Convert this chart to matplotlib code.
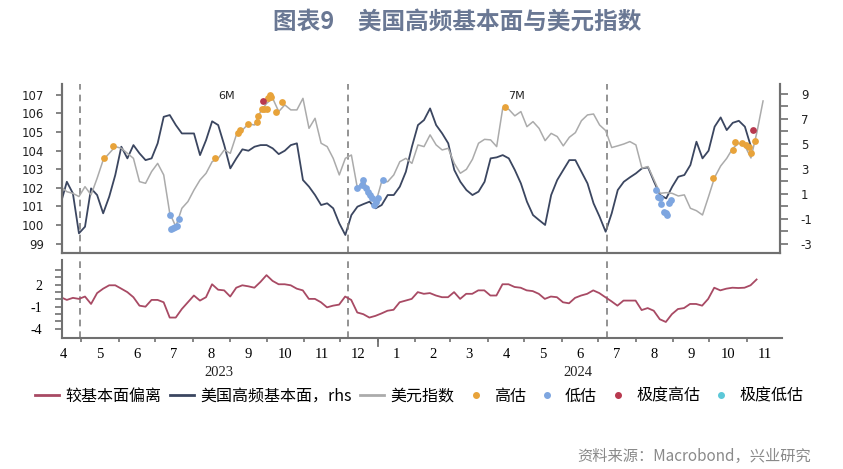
import matplotlib
matplotlib.use('Agg')
import matplotlib.pyplot as plt
import matplotlib.dates as mdates
import matplotlib.transforms as mtransforms
from matplotlib.lines import Line2D
import numpy as np
import pandas as pd

plt.rcParams['font.family'] = ['Noto Sans CJK SC', 'DejaVu Sans']
plt.rcParams['axes.unicode_minus'] = False

# sample dates: every 5 days from 2023-04-14
start = pd.Timestamp('2023-04-14')
dates = pd.date_range(start, periods=117, freq='5D')

# 美元指数 (left axis)
dxy = [102.06, 101.79, 101.70, 101.53, 102.06, 101.62, 102.51, 103.49, 103.85, 104.21,
       104.12, 103.85, 103.58, 102.33, 102.24, 102.87, 103.31, 102.69, 100.63, 99.92,
       100.90, 101.26, 101.88, 102.42, 102.78, 103.40, 103.58, 104.03, 103.85, 104.84,
       105.10, 105.43, 105.37, 106.09, 106.53, 106.80, 106.09, 106.45, 106.18, 106.18,
       106.80, 105.19, 105.73, 104.39, 104.21, 103.58, 102.69, 103.58, 103.76, 101.97,
       102.42, 101.70, 101.17, 102.33, 102.33, 102.69, 103.40, 103.58, 103.31, 104.30,
       104.21, 104.84, 104.30, 104.03, 104.12, 103.31, 102.78, 102.99, 103.53, 104.39,
       104.60, 104.57, 104.21, 106.27, 106.21, 105.86, 106.09, 105.28, 105.55, 105.19,
       104.53, 104.92, 104.75, 104.25, 104.71, 104.96, 105.60, 105.91, 105.96, 105.37,
       105.07, 104.16, 104.25, 104.35, 104.48, 104.30, 103.05, 103.14, 102.42, 101.70,
       101.74, 101.70, 101.56, 101.62, 100.90, 100.77, 100.54, 101.53, 102.56, 103.17,
       103.58, 104.12, 104.39, 104.25, 103.60, 105.00, 106.66]

# 美国高频基本面 (right axis)
fund = [0.25, 1.97, 1.04, -2.15, -1.62, 1.44, 0.91, -0.55, 0.78, 2.51,
        4.77, 3.84, 4.90, 4.24, 3.70, 3.84, 5.04, 7.16, 7.30, 6.50,
        5.83, 5.83, 5.83, 4.10, 5.30, 6.80, 6.50, 4.90, 3.04, 3.84,
        4.56, 4.45, 4.77, 4.90, 4.90, 4.64, 4.18, 4.45, 4.90, 5.04,
        2.11, 1.58, 0.91, 0.11, 0.25, -0.15, -1.35, -2.28, -0.69, -0.02,
        0.19, 0.38, -0.15, 0.11, 0.91, 0.91, 1.58, 2.77, 4.77, 6.50,
        6.90, 7.83, 6.50, 5.83, 5.04, 2.91, 1.97, 1.31, 0.91, 1.18,
        1.97, 3.84, 3.92, 4.10, 3.84, 2.91, 1.84, 0.38, -0.69, -1.09,
        -1.48, 0.91, 2.11, 2.91, 3.70, 3.70, 2.77, 1.84, 0.25, -0.82,
        -2.02, -0.55, 1.31, 1.97, 2.32, 2.64, 3.04, 3.12, 1.97, 0.91,
        0.64, 1.58, 2.37, 2.51, 3.31, 5.17, 3.84, 4.45, 6.37, 7.11,
        6.10, 6.68, 6.84, 6.37, 4.77, np.nan, np.nan]

# 较基本面偏离 (lower panel)
gap = [0.29, -0.08, 0.20, 0.06, 0.38, -0.63, 0.85, 1.45, 1.91, 1.91,
       1.45, 0.98, 0.29, -0.86, -1.00, -0.08, -0.08, -0.40, -2.48, -2.48,
       -1.32, -0.40, 0.52, -0.17, 0.29, 2.05, 1.31, 1.22, 0.38, 1.58,
       1.91, 1.77, 1.58, 2.37, 3.29, 2.51, 2.05, 2.05, 1.91, 1.45,
       1.22, 0.06, 0.06, -0.40, -1.09, -0.86, -0.72, 0.38, -0.08, -1.79,
       -2.02, -2.48, -2.25, -1.92, -1.55, -1.42, -0.40, -0.17, 0.06, 0.98,
       0.75, 0.85, 0.52, 0.29, 0.29, 0.98, 0.06, 0.75, 0.75, 1.22,
       1.22, 0.52, 0.52, 2.05, 2.05, 1.68, 1.58, 1.22, 1.12, 0.75,
       0.06, 0.38, 0.29, -0.40, -0.54, 0.20, 0.52, 0.75, 1.22, 0.85,
       0.29, -0.26, -0.86, -0.17, -0.17, -0.17, -1.46, -1.19, -1.55, -2.71,
       -3.08, -2.02, -1.32, -1.19, -0.63, -0.63, -0.86, 0.06, 1.58, 1.22,
       1.45, 1.58, 1.54, 1.58, 1.91, 2.70, np.nan]

# valuation dots on the dollar index (days after 2023-04-14)
hi_days = [36, 43, 127, 146, 148, 155, 162, 163, 166, 168, 170, 171, 173, 174, 178, 183,
           367, 539, 555, 557, 563, 566, 568, 570, 573]
hi_vals = [103.58, 104.25, 103.58, 104.92, 105.10, 105.43, 105.55, 105.86, 106.25, 106.25,
           106.25, 106.80, 106.98, 106.86, 106.09, 106.62,
           106.32, 102.53, 104.03, 104.48, 104.39, 104.30, 104.21, 103.85, 104.53]
lo_days = [90, 91, 93, 94, 96, 98,
           245, 249, 250, 252, 254, 255, 257, 259, 260, 262, 266,
           492, 493, 495, 496, 498, 500, 501, 502, 504]
lo_vals = [100.54, 99.79, 99.83, 99.92, 99.95, 100.31,
           101.97, 102.15, 102.42, 101.97, 101.79, 101.61, 101.43, 101.08, 101.26, 101.43, 102.42,
           101.88, 101.53, 101.44, 101.13, 100.72, 100.63, 100.54, 101.17, 101.35]
xhi_days = [167, 572]
xhi_vals = [106.68, 105.10]

cut_dates = ['2023-04-30', '2023-12-07', '2024-07-08']
cycle_labels = [('2023-08-29', '6M'), ('2024-04-24', '7M')]
year_labels = [('2023-08-23', '2023'), ('2024-06-14', '2024')]

c_gap = '#a84a64'
c_fund = '#3b4660'
c_dxy = '#ababab'
c_hi = '#e8a33a'
c_lo = '#7ea6e0'
c_xhi = '#b8394f'
c_xlo = '#5cc8d8'
c_spine = '#707070'


def to_dates(days):
    return [start + pd.Timedelta(days=d) for d in days]


fig = plt.figure(figsize=(8.43, 4.69), dpi=100)
ax1 = fig.add_axes([62 / 843, 1 - 253 / 469, 718 / 843, 169 / 469])
ax1r = ax1.twinx()
ax2 = fig.add_axes([62 / 843, 1 - 338 / 469, 720 / 843, 78 / 469])
ax1.set_zorder(ax1r.get_zorder() + 1)
ax1.patch.set_visible(False)

xmin, xmax = pd.Timestamp('2023-04-15'), pd.Timestamp('2024-11-28')

ax1r.plot(dates, fund, color=c_fund, lw=1.3)
ax1.plot(dates, dxy, color=c_dxy, lw=1.1)
ax1.scatter(to_dates(hi_days), hi_vals, s=24, color=c_hi, zorder=5, linewidths=0)
ax1.scatter(to_dates(lo_days), lo_vals, s=24, color=c_lo, zorder=5, linewidths=0)
ax1.scatter(to_dates(xhi_days), xhi_vals, s=24, color=c_xhi, zorder=6, linewidths=0)
ax2.plot(dates, gap, color=c_gap, lw=1.3)

for ax in (ax1, ax2):
    for d in cut_dates:
        ax.axvline(pd.Timestamp(d), color='#808080', lw=1.2, ls=(0, (4, 3)), zorder=1)
ax1.set_xlim(xmin, xmax)
ax2.set_xlim(xmin, xmax + pd.Timedelta(days=2))

t1 = mtransforms.blended_transform_factory(ax1.transData, ax1.transAxes)
for d, t in cycle_labels:
    ax1.text(mdates.date2num(pd.Timestamp(d)), 0.93, t, transform=t1,
             ha='center', va='center', fontsize=8, family='DejaVu Sans', color='#222222')

serif = 'Liberation Serif'

# top panel axes
ax1.set_ylim(98.5, 107.57)
ax1r.set_ylim(-3.72, 9.78)
ax1.set_yticks(range(99, 108))
ax1r.set_yticks(range(-3, 10, 2))
ax1r.set_yticks(range(-2, 10, 2), minor=True)
ax1.tick_params(axis='x', bottom=False, labelbottom=False)
ax1r.tick_params(axis='x', bottom=False, labelbottom=False)
ax1.tick_params(axis='y', length=4, width=1.2, color=c_spine, pad=9, labelsize=8.5)
ax1r.tick_params(axis='y', which='both', length=6, width=1.2, color=c_spine, pad=9, labelsize=8.5)
for lab in ax1.get_yticklabels() + ax1r.get_yticklabels():
    lab.set_family('DejaVu Sans')
    lab.set_color('#222222')
for ax in (ax1, ax1r):
    ax.spines['top'].set_visible(False)
    for s in ('left', 'right', 'bottom'):
        ax.spines[s].set_color(c_spine)
        ax.spines[s].set_linewidth(1.5)

# bottom panel axes
ax2.set_ylim(-5.26, 5.35)
ax2.set_yticks([2, -1, -4])
ax2.set_yticks([4, 3, 1, 0, -2, -3], minor=True)
ax2.tick_params(axis='y', which='both', length=5, width=1.2, color=c_spine, pad=9, labelsize=10)
for lab in ax2.get_yticklabels():
    lab.set_family(serif)
ax2.spines['top'].set_visible(False)
ax2.spines['right'].set_visible(False)
for s in ('left', 'bottom'):
    ax2.spines[s].set_color(c_spine)
    ax2.spines[s].set_linewidth(1.5)

ax2.xaxis.set_major_locator(mdates.MonthLocator())
ax2.xaxis.set_major_formatter(plt.NullFormatter())
ax2.xaxis.set_minor_locator(mdates.MonthLocator(bymonthday=16))
ax2.xaxis.set_minor_formatter(mdates.DateFormatter('%-m'))
ax2.tick_params(axis='x', which='major', length=3, width=1.2, color=c_spine)
ax2.tick_params(axis='x', which='minor', length=0, pad=7, labelsize=10.5)
for lab in ax2.get_xticklabels(minor=True):
    lab.set_family(serif)

bt = mtransforms.blended_transform_factory(ax2.transData, ax2.transAxes)
jan1 = mdates.date2num(pd.Timestamp('2024-01-01'))
ax2.plot([jan1, jan1], [0, -0.1], transform=bt, clip_on=False, color=c_spine, lw=1.3)

ft = mtransforms.blended_transform_factory(ax2.transData, fig.transFigure)
for d, t in year_labels:
    fig.text(mdates.date2num(pd.Timestamp(d)), 1 - 373 / 469, t, transform=ft, ha='center', va='center',
             fontsize=10.5, family=serif, color='#222222')

# legend
handles = [Line2D([], [], color=c_gap, lw=2),
           Line2D([], [], color=c_fund, lw=2),
           Line2D([], [], color=c_dxy, lw=2),
           Line2D([], [], marker='o', ls='none', color=c_hi, markersize=4),
           Line2D([], [], marker='o', ls='none', color=c_lo, markersize=4),
           Line2D([], [], marker='o', ls='none', color=c_xhi, markersize=4),
           Line2D([], [], marker='o', ls='none', color=c_xlo, markersize=4)]
labels = ['较基本面偏离', '美国高频基本面，rhs', '美元指数', '高估', '低估', '极度高估', '极度低估']
fig.legend(handles, labels, loc='center', bbox_to_anchor=(0.497, 1 - 396 / 469), ncol=7,
           frameon=False, fontsize=11.5, handlelength=1.5, handletextpad=0.4, columnspacing=0.55)

fig.text(457 / 843, 1 - 22 / 469, '图表9\u3000美国高频基本面与美元指数', ha='center', va='center',
         fontsize=17, fontweight='bold', color='#6a7894')
fig.text(811 / 843, 1 - 456 / 469, '资料来源：Macrobond，兴业研究', ha='right', va='center',
         fontsize=11, color='#8a8a8a')

fig.savefig('out.png', dpi=100)
